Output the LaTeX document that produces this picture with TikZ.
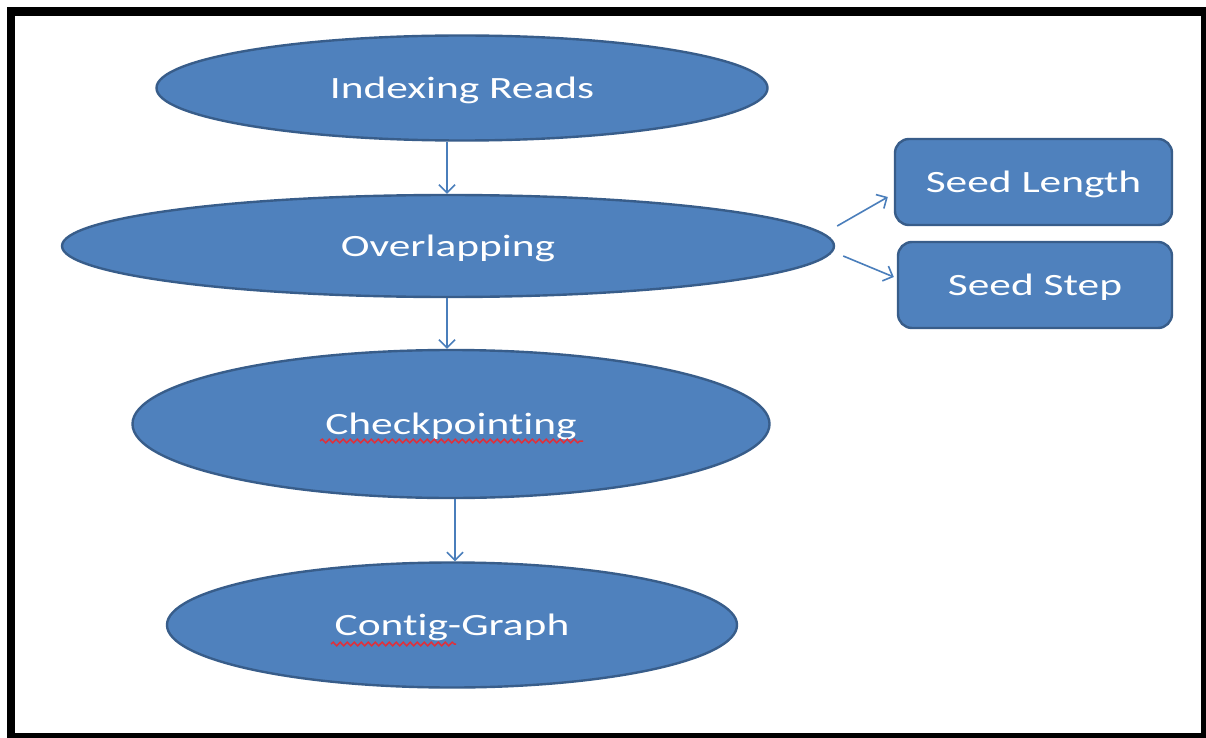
\documentclass[tikz,border=0pt]{standalone}
\usepackage{fontspec}
\setmainfont{Carlito}[FakeStretch=1.4,Ligatures=NoCommon]
\usetikzlibrary{shapes.geometric,arrows.meta,decorations.pathmorphing}
\definecolor{fillblue}{HTML}{4F81BD}
\definecolor{edgeblue}{HTML}{385D8A}
\definecolor{arrowblue}{HTML}{4A7EBB}
\definecolor{squig}{HTML}{E0303A}
\newcommand{\lowtxt}[1]{\raisebox{-10.5pt}[0pt][0pt]{#1}}
\tikzset{
  oval/.style={ellipse, fill=fillblue, draw=edgeblue, line width=2.4pt, inner sep=0pt,
    text=white, font=\fontsize{31}{36}\selectfont},
  rbox/.style={rectangle, rounded corners=14pt, fill=fillblue, draw=edgeblue, line width=2.4pt,
    inner sep=0pt, text=white, font=\fontsize{31}{36}\selectfont},
  arr/.style={draw=arrowblue, line width=1.6pt, -{Straight Barb[length=8pt,width=16pt]}},
  squiggle/.style={draw=squig, line width=1.5pt, decorate,
    decoration={snake, amplitude=1.8pt, segment length=7pt}}
}
\begin{document}
\begin{tikzpicture}[x=1pt,y=-1pt]
\useasboundingbox (0,0) rectangle (1206,738);
\fill[black] (7,7) rectangle (1206,738);
\fill[white] (15,16) rectangle (1201,733);

\node[oval, minimum width=611pt, minimum height=105pt] (a) at (462,88) {\lowtxt{Indexing Reads}};
\node[oval, minimum width=772pt, minimum height=102pt] (b) at (448,246) {\lowtxt{Overlapping}};
\node[oval, minimum width=637pt, minimum height=148pt] (c) at (451,424) {\lowtxt{Checkpointing}};
\node[oval, minimum width=570pt, minimum height=125pt] (d) at (452,625) {\lowtxt{Contig-Graph}};

\node[rbox, minimum width=277pt, minimum height=86pt] (sl) at (1033.5,182) {\lowtxt{Seed Length}};
\node[rbox, minimum width=274pt, minimum height=86pt] (ss) at (1035,285) {\lowtxt{Seed Step}};

\coordinate (u1a) at (320,441);
\coordinate (u1b) at (583,441);
\coordinate (u2a) at (331,644);
\coordinate (u2b) at (456,644);
\draw[squiggle] (u1a) -- (u1b);
\draw[squiggle] (u2a) -- (u2b);

\draw[arr] ([xshift=-15pt]a.south) -- ([xshift=-1pt]b.north);
\draw[arr] ([xshift=-1pt]b.south) -- ([xshift=-4pt]c.north);
\draw[arr] ([xshift=4pt]c.south) -- ([xshift=3pt]d.north);
\draw[arr] ([shift={(2,-20)}]b.east) -- ([shift={(-6,15)}]sl.west);
\draw[arr] ([shift={(8,10)}]b.east) -- ([shift={(-3,-8)}]ss.west);
\end{tikzpicture}
\end{document}
